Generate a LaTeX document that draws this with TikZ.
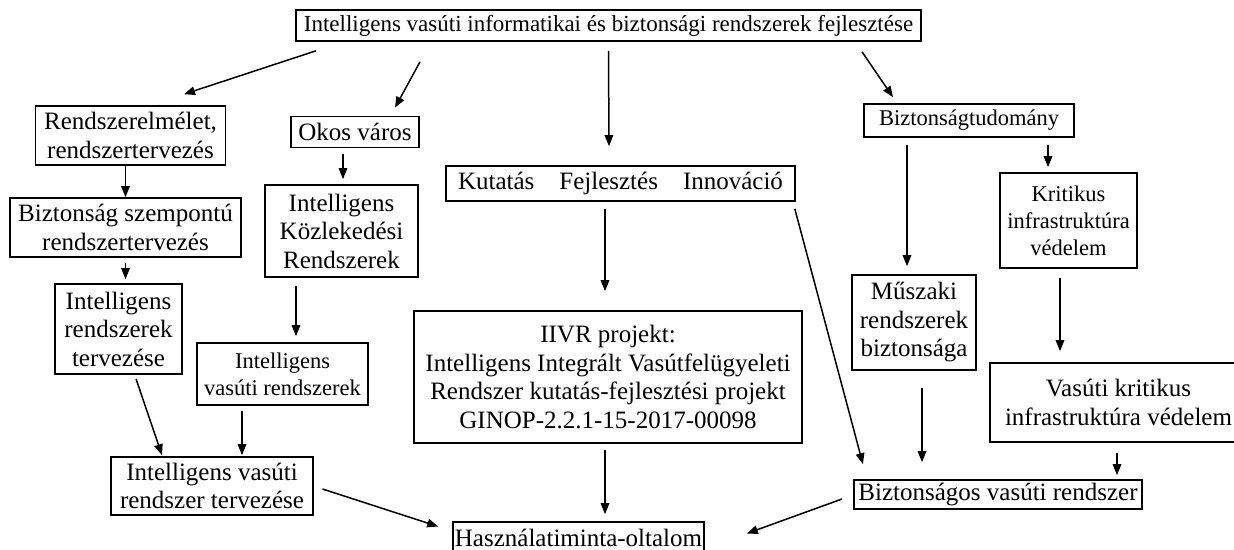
\documentclass[tikz,border=0pt]{standalone}
\usepackage{fontspec}
\setmainfont{Liberation Serif}
\usetikzlibrary{arrows.meta}
\tikzset{
  box/.style={draw, line width=1.6pt, inner sep=0pt, align=center, font=\fontsize{25}{28.5}\selectfont},
  small/.style={font=\fontsize{22.5}{27}\selectfont},
  arr/.style={line width=1.5pt, -{Triangle[length=11pt,width=8.5pt]}},
}
\begin{document}
\begin{tikzpicture}[x=1pt,y=-1pt]
\useasboundingbox (0,0) rectangle (1234,549);
\fill[white] (0,0) rectangle (1234,549);
% nodes
\node[box, font=\fontsize{23}{27}\selectfont, minimum width=625pt, minimum height=31pt] (top) at (608.5,25.5) {Intelligens vasúti informatikai és biztonsági rendszerek fejlesztése};
\node[box, minimum width=190pt, minimum height=59pt] (rend) at (130.5,135.5) {Rendszerelmélet,\\rendszertervezés};
\node[box, minimum width=128pt, minimum height=31pt] (okos) at (355,132) {Okos város};
\node[box, minimum width=153pt, minimum height=92pt] (ikr) at (341.5,231) {Intelligens\\Közlekedési\\Rendszerek};
\node[box, minimum width=231pt, minimum height=59pt] (bsz) at (125.5,227.5) {Biztonság szempontú\\rendszertervezés};
\node[box, minimum width=127pt, minimum height=90pt] (irt) at (118.5,329) {Intelligens\\rendszerek\\tervezése};
\node[box, small, minimum width=171pt, minimum height=62pt] (ivr) at (282.5,374) {Intelligens\\vasúti rendszerek};
\node[box, minimum width=201.5pt, minimum height=58pt] (ivrt) at (212,486) {Intelligens vasúti\\rendszer tervezése};
\node[box, minimum width=349pt, minimum height=35pt] (kfi) at (620.5,183.5) {Kutatás\hspace{25pt}Fejlesztés\hspace{25pt}Innováció};
\node[box, minimum width=388.5pt, minimum height=132pt] (iivr) at (608,377) {IIVR projekt:\\Intelligens Integrált Vasútfelügyeleti\\Rendszer kutatás-fejlesztési projekt\\GINOP-2.2.1-15-2017-00098};
\node[box, minimum width=251pt, minimum height=31pt] (haszn) at (578.5,537.5) {Használatiminta-oltalom};
\node[box, small, minimum width=210pt, minimum height=33pt] (btud) at (969,120.5) {Biztonságtudomány};
\node[box, small, minimum width=137pt, minimum height=95pt] (krit) at (1068.5,220.5) {Kritikus\\infrastruktúra\\védelem};
\node[box, minimum width=124pt, minimum height=95pt] (musz) at (914,322.5) {Műszaki\\rendszerek\\biztonsága};
\node[box, minimum width=257pt, minimum height=79pt] (vk) at (1118.5,402.5) {Vasúti kritikus\\infrastruktúra védelem};
\node[box, minimum width=288.5pt, minimum height=29pt] (bvr) at (998,494.5) {Biztonságos vasúti rendszer};
% arrows
\draw[arr] ([xshift=-292.5pt,yshift=-9pt]top.south) -- ([xshift=53.5pt,yshift=11pt]rend.north);
\draw[arr] ([xshift=-188.5pt,yshift=-20pt]top.south) -- ([xshift=40pt,yshift=8pt]okos.north);
\draw[arr] ([yshift=-9pt]top.south) -- ([xshift=-11.5pt,yshift=19pt]kfi.north);
\draw[arr] ([xshift=253.5pt,yshift=-10pt]top.south) -- ([xshift=-76pt,yshift=6pt]btud.north);
\draw[arr] (bsz.north |- rend.south) -- (bsz.north);
\draw[arr] ([yshift=-5pt]bsz.south) -- ([yshift=4pt]bsz.south |- irt.north);
\draw[arr] ([xshift=-12pt,yshift=-6pt]okos.south) -- ([xshift=1.5pt,yshift=5pt]ikr.north);
\draw[arr] ([xshift=-45.5pt,yshift=-8pt]ikr.south) -- ([xshift=13.5pt,yshift=6pt]ivr.north);
\draw[arr] ([xshift=17.5pt,yshift=-4pt]irt.south) -- ([xshift=-50pt,yshift=1pt]ivrt.north);
\draw[arr] ([xshift=-40.5pt,yshift=-5pt]ivr.south) -- ([xshift=30pt,yshift=1pt]ivrt.north);
\draw[arr] ([xshift=9pt,yshift=-3pt]ivrt.east) -- ([xshift=-14pt,yshift=11pt]haszn.west);
\draw[arr] ([xshift=-15.5pt,yshift=-7pt]kfi.south) -- ([xshift=-3pt,yshift=19pt]iivr.north);
\draw[arr] ([xshift=-3pt,yshift=-6pt]iivr.south) -- ([xshift=26.5pt,yshift=7pt]haszn.north);
\draw[arr] ([xshift=-1pt,yshift=-7pt]kfi.south east) -- ([xshift=10pt,yshift=15pt]bvr.north west);
\draw[arr] ([xshift=-62pt,yshift=-7pt]btud.south) -- ([xshift=-7pt,yshift=8pt]musz.north);
\draw[arr] ([xshift=79pt,yshift=-7pt]btud.south) -- ([xshift=-20.5pt,yshift=5pt]krit.north);
\draw[arr] ([xshift=-8.5pt,yshift=-9pt]krit.south) -- ([xshift=-58.5pt,yshift=11pt]vk.north);
\draw[arr] ([xshift=8pt,yshift=-17pt]musz.south) -- ([xshift=-76pt,yshift=17pt]bvr.north);
\draw[arr] ([xshift=-1.5pt,yshift=-10pt]vk.south) -- ([xshift=119pt,yshift=4pt]bvr.north);
\draw[arr] ([xshift=-11pt,yshift=-4.5pt]bvr.west) -- ([xshift=42pt,yshift=4pt]haszn.east);
\end{tikzpicture}
\end{document}
